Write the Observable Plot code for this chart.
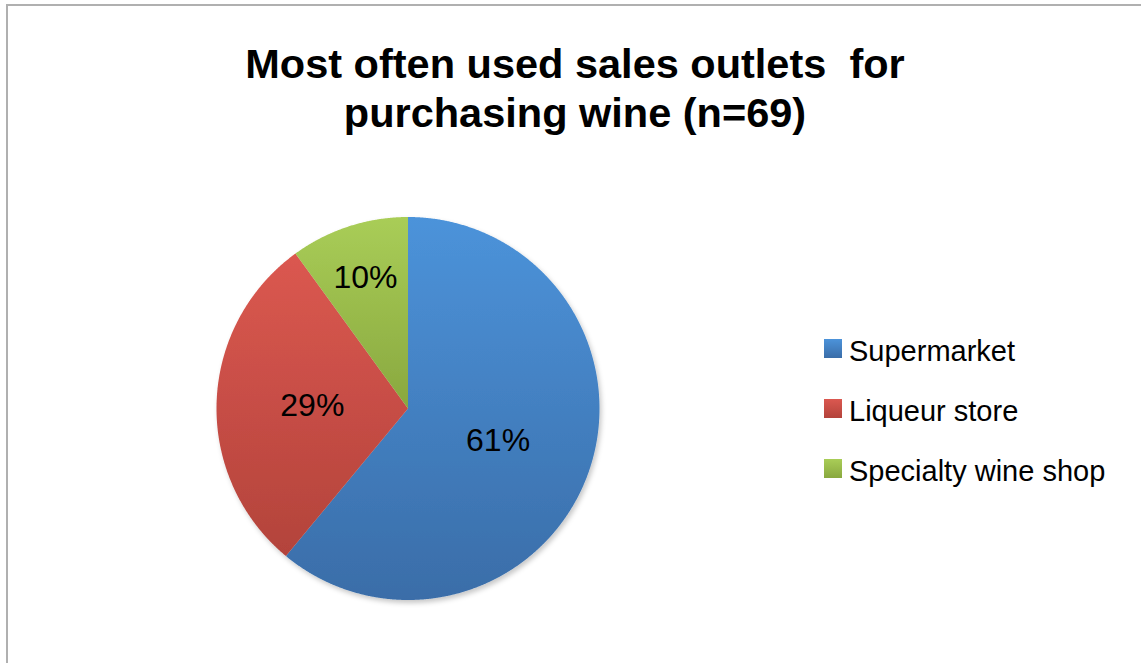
<!DOCTYPE html>
<html>
<head>
<meta charset="utf-8">
<script src="https://cdn.jsdelivr.net/npm/d3@7"></script>
<script src="https://cdn.jsdelivr.net/npm/@observablehq/plot@0.6"></script>
<style>
  html, body { margin: 0; padding: 0; background: #fff; }
  #wrap { position: relative; width: 1141px; height: 663px; overflow: hidden; font-family: "Liberation Sans", Arial, sans-serif; }
  #frame { position: absolute; left: 6px; top: 4px; width: 1133px; height: 670px; border-left: 2px solid #b0b0b0; border-top: 2px solid #b0b0b0; border-right: 1px solid #e2e2e2; }
  #chart { position: absolute; left: 0; top: 0; }
  #title { position: absolute; left: 0; top: 39px; width: 1150px; text-align: center; font-weight: bold; font-size: 41.5px; line-height: 49px; color: #000; white-space: pre; }
  .leg { position: absolute; left: 849px; font-size: 29px; line-height: 29px; color: #000; white-space: pre; }
  .sw { position: absolute; left: -25px; top: 2px; width: 18px; height: 19px; }
</style>
</head>
<body>
<div id="wrap">
  <div id="frame"></div>
  <div id="chart"></div>
  <div id="title"></div>
  <div id="legend"></div>
</div>
<script>
const title = ["Most often used sales outlets  for", "purchasing wine (n=69)"];
const categories = ["Supermarket", "Liqueur store", "Specialty wine shop"];
const shares = [61, 29, 10];
const labels = ["61%", "29%", "10%"];
const topColors = ["#4c93da", "#db5850", "#a9cd57"];
const bottomColors = ["#3a6da8", "#b3433b", "#89a83f"];

document.getElementById("title").textContent = title.join("\n");

const arcs = d3.pie().sort(null).value(d => d)(shares);
const points = [];
const labelData = [];
arcs.forEach((a, i) => {
  const name = categories[i];
  points.push({name, x: 0, y: 0});
  const n = Math.ceil((a.endAngle - a.startAngle) / (Math.PI / 720));
  for (let k = 0; k <= n; k++) {
    const t = a.startAngle + (a.endAngle - a.startAngle) * k / n;
    points.push({name, x: Math.sin(t), y: Math.cos(t)});
  }
  const mid = (a.startAngle + a.endAngle) / 2;
  const share = shares[i] / d3.sum(shares);
  const r = share < 0.15 ? 0.72 : 0.5;
  labelData.push({x: r * Math.sin(mid), y: r * Math.cos(mid), text: labels[i]});
});

const ids = categories.map((c, i) => "grad" + i);

const svg = Plot.plot({
  width: 1141,
  height: 663,
  margin: 0,
  style: {background: "transparent", fontFamily: "Liberation Sans, Arial, sans-serif"},
  x: {domain: [-1, 1], range: [216, 599], axis: null},
  y: {domain: [-1, 1], range: [599.5, 216.5], axis: null},
  color: {domain: categories, range: ids.map(id => `url(#${id})`)},
  marks: [
    Plot.line(points, {x: "x", y: "y", z: "name", fill: "name", stroke: "none", curve: "linear"}),
    Plot.text(labelData, {x: "x", y: "y", text: "text", fontSize: 32, fill: "#000", textAnchor: "middle"})
  ]
});

const defs = d3.select(svg).insert("defs", ":first-child");
ids.forEach((id, i) => {
  const g = defs.append("linearGradient").attr("id", id).attr("x1", 0).attr("y1", 0).attr("x2", 0).attr("y2", 1);
  g.append("stop").attr("offset", "0%").attr("stop-color", topColors[i]);
  g.append("stop").attr("offset", "100%").attr("stop-color", bottomColors[i]);
});
const f = defs.append("filter").attr("id", "shadow").attr("x", "-10%").attr("y", "-10%").attr("width", "130%").attr("height", "130%");
f.append("feDropShadow").attr("dx", 2).attr("dy", 3).attr("stdDeviation", 2.5).attr("flood-color", "#000").attr("flood-opacity", 0.22);
d3.select(svg).select('g[aria-label="line"]').attr("filter", "url(#shadow)");

document.getElementById("chart").appendChild(svg);

const legend = document.getElementById("legend");
categories.forEach((c, i) => {
  const row = document.createElement("div");
  row.className = "leg";
  row.style.top = (337 + 60 * i) + "px";
  row.textContent = c;
  const sw = document.createElement("div");
  sw.className = "sw";
  sw.style.background = `linear-gradient(${topColors[i]}, ${bottomColors[i]})`;
  row.appendChild(sw);
  legend.appendChild(row);
});
</script>
</body>
</html>
